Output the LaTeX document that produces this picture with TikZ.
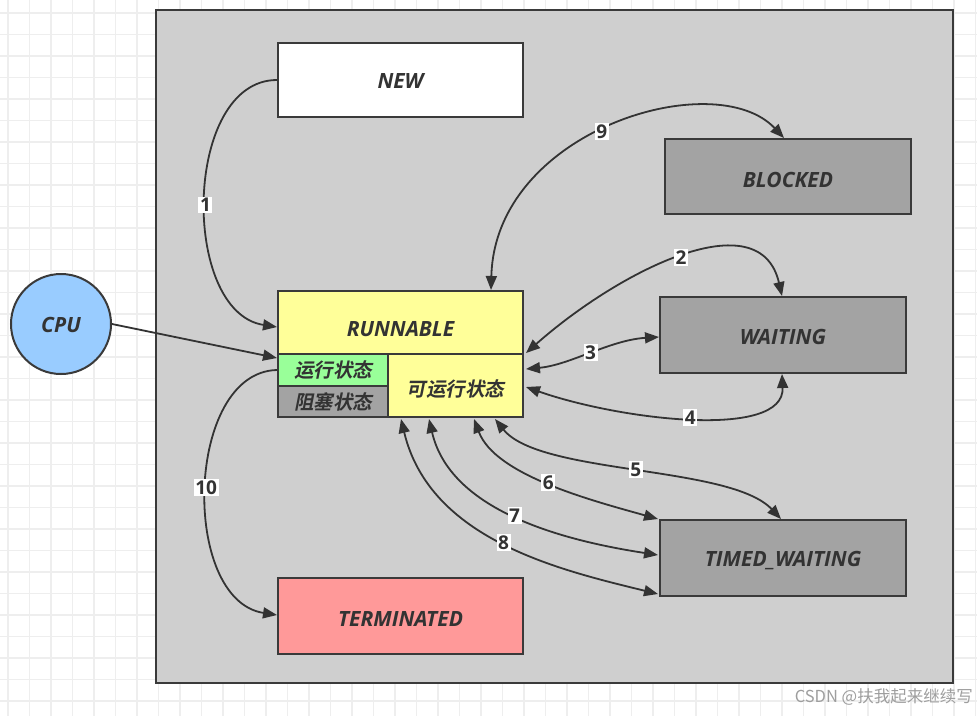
\documentclass[tikz,border=0pt]{standalone}
\usepackage{fontspec}
\setmainfont{Open Sans}
\newfontfamily\cjk{Noto Sans CJK SC}[UprightFont=* Bold, FakeSlant=0.2]
\newfontfamily\cjkr{Noto Sans CJK SC}
\usetikzlibrary{arrows.meta,calc}
\newcommand\lowr[2]{\raisebox{-#1}[\height][\depth]{#2}}
\definecolor{frameg}{HTML}{CFCFCF}
\definecolor{boxg}{HTML}{A3A3A3}
\definecolor{stroke}{HTML}{3A3A3A}
\definecolor{txt}{HTML}{333333}
\definecolor{yel}{HTML}{FFFF99}
\definecolor{grn}{HTML}{99FF99}
\definecolor{red}{HTML}{FF9999}
\definecolor{blu}{HTML}{99CCFF}
\definecolor{gridc}{HTML}{EEEEEE}
\tikzset{
  state/.style={draw=stroke, line width=2pt, rectangle, text=txt,
    font=\fontsize{21}{22}\selectfont\bfseries\itshape, inner sep=0pt},
  cjkbox/.style={state, font=\fontsize{19.5}{21}\selectfont\cjk},
  conn/.style={draw=txt, line width=1.8pt, >={Triangle[length=14pt,width=11pt]}},
  lbl/.style={fill=white, text=txt, inner sep=1.6pt,
    font=\fontsize{19}{20}\selectfont\bfseries},
}
\begin{document}
\begin{tikzpicture}[x=1pt,y=-1pt]
\useasboundingbox (0,0) rectangle (977,716);
\fill[white] (0,0) rectangle (977,716);
\foreach \i in {0,...,45} \draw[gridc, line width=1.4pt] ({8+21.5*\i},0) -- ++(0,716);
\foreach \j in {0,...,33} \draw[gridc, line width=1.4pt] (0,{13+21.5*\j}) -- ++(977,0);

\node[draw=stroke, line width=2.2pt, fill=frameg, minimum width=797pt, minimum height=673pt, inner sep=0pt] (frame) at (554.5,346.5) {};

\node[state, fill=white, minimum width=245pt, minimum height=74pt] (new) at (400.5,80) {\lowr{1pt}{NEW}};
\node[state, fill=boxg, minimum width=246pt, minimum height=75pt] (blocked) at (788,176.5) {\lowr{3pt}{BLOCKED}};
\node[state, fill=boxg, minimum width=246pt, minimum height=76pt] (waiting) at (783,335) {\lowr{2pt}{WAITING}};
\node[state, fill=boxg, minimum width=246pt, minimum height=76pt] (timed) at (783,558) {\lowr{3pt}{TIMED\_WAITING}};
\node[state, fill=red, minimum width=245pt, minimum height=76pt] (term) at (400.5,616) {\lowr{3pt}{TERMINATED}};
\node[state, fill=yel, minimum width=245pt, minimum height=63pt] (run) at (400.5,322.5) {\lowr{7pt}{RUNNABLE}};
\node[cjkbox, fill=grn, minimum width=110pt, minimum height=32pt] (yx) at (333,370) {运行状态};
\node[cjkbox, fill=boxg, minimum width=110pt, minimum height=31pt] (zs) at (333,401.5) {阻塞状态};
\node[cjkbox, fill=yel, minimum width=135pt, minimum height=63pt] (kyx) at (455.5,385.5) {\lowr{4pt}{可运行状态}};
\node[state, circle, fill=blu, minimum size=100pt] (cpu) at (61,324) {\lowr{1pt}{CPU}};

% 1
\draw[conn,->] (new.west) .. controls (183,80) and (180,312) .. ($(run.west)+(0,4.5)$)
  node[lbl, pos=0.52] {1};
% CPU
\draw[conn,->] (cpu.east) -- ($(run.south west)+(0,3)$);
% 10
\draw[conn,->] (yx.west) .. controls (185,372) and (180,600) .. ($(term.west)+(0,-1)$)
  node[lbl, pos=0.5] {10};
% 9
\draw[conn,<->] ($(run.north west)+(214,0)$) .. controls (495,130) and (715,65) .. ($(blocked.north west)+(120,0)$)
  node[lbl, pos=0.47] {9};
% 2
\draw[conn,<->] ($(run.south east)+(2,-2)$) .. controls (620,270) and (760,200) .. ($(waiting.north west)+(123,0)$)
  node[lbl, pos=0.5] {2};
% 3
\draw[conn,<->] ($(kyx.north east)+(2,16)$) .. controls (570,365) and (610,340) .. ($(waiting.west)+(0,2)$)
  node[lbl, pos=0.5] {3};
% 4
\draw[conn,<->] ($(kyx.east)+(2,1.5)$) .. controls (620,420) and (785,440) .. ($(waiting.south west)+(123,0)$)
  node[lbl, pos=0.5] {4};
% 5
\draw[conn,<->] ($(kyx.south west)+(108,1)$) .. controls (540,475) and (730,465) .. ($(timed.north west)+(122,0)$)
  node[lbl, pos=0.5] {5};
% 6
\draw[conn,<->] ($(kyx.south west)+(87,1)$) .. controls (495,475) and (590,500) .. ($(timed.north west)+(-1,0)$)
  node[lbl, pos=0.5] {6};
% 7
\draw[conn,<->] ($(kyx.south west)+(42,1)$) .. controls (450,510) and (560,540) .. ($(timed.west)+(-1,-3)$)
  node[lbl, pos=0.5] {7};
% 8
\draw[conn,<->] ($(kyx.south west)+(14,1)$) .. controls (430,540) and (560,570) .. ($(timed.south west)+(-1,-3)$)
  node[lbl, pos=0.5] {8};

\node[text=black!38, font=\fontsize{16.5}{17}\selectfont\cjkr, anchor=east, inner sep=0pt] (csdn) at (973,697) {CSDN @扶我起来继续写};
\end{tikzpicture}
\end{document}
